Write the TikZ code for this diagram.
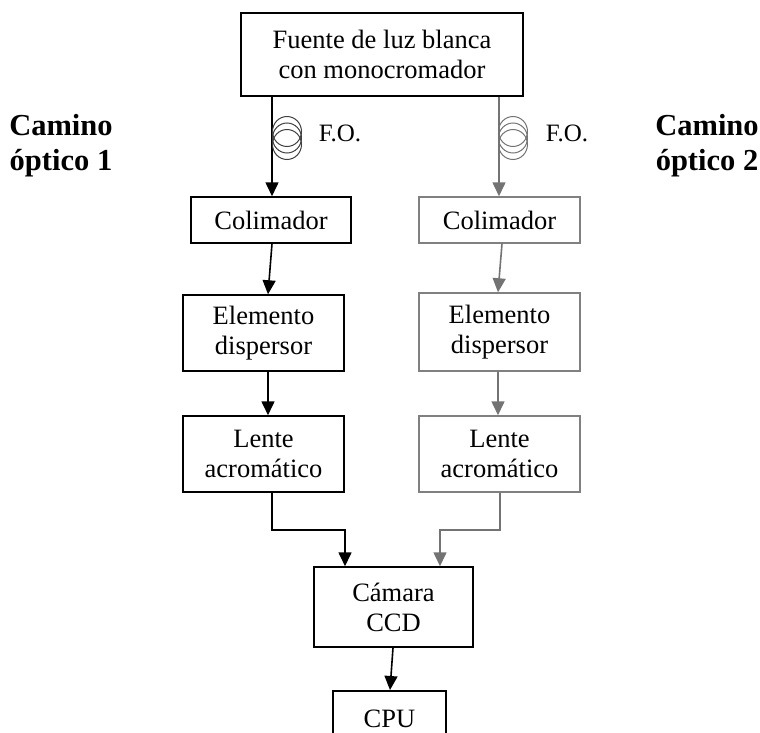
\documentclass[tikz,border=0pt]{standalone}
\usepackage{fontspec}
\setmainfont{Liberation Serif}
\usetikzlibrary{arrows.meta,positioning}
\tikzset{
  box/.style={rectangle, draw=black, line width=1.5pt, fill=white, align=center,
              inner sep=0pt, font=\fontsize{26.5}{30}\selectfont},
  gbox/.style={box, draw=black!50},
  ar/.style={-{Triangle[length=14pt,width=13pt]}, line width=1.6pt},
  gar/.style={ar, color=black!55},
  coil/.style={line width=1pt, draw=black!75}
}

\begin{document}
\begin{tikzpicture}[
  x=1pt, y=-1pt,
  path/.style={font=\fontsize{30.5}{35}\selectfont\bfseries, align=center},
  fo/.style={font=\fontsize{25}{30}\selectfont}
]
\useasboundingbox (0,0) rectangle (760,733);
\clip (0,0) rectangle (760,733);
% source
\node[box, minimum width=282pt, minimum height=83pt] (src) at (382,54.5) {Fuente de luz blanca\\con monocromador};
% optical path 1
\node[box, minimum width=160pt, minimum height=46pt] (col1) at (271,220) {Colimador};
\node[box, minimum width=161pt, minimum height=76pt] (dis1) at (263.5,333) {Elemento\\dispersor};
\node[box, minimum width=161pt, minimum height=76pt] (len1) at (263.5,454) {Lente\\acrom\'atico};
% optical path 2
\node[gbox, minimum width=161pt, minimum height=46pt] (col2) at (499.5,220) {Colimador};
\node[gbox, minimum width=161pt, minimum height=78pt] (dis2) at (499.5,332) {Elemento\\dispersor};
\node[gbox, minimum width=161pt, minimum height=76pt] (len2) at (499.5,454) {Lente\\acrom\'atico};
% detection
\node[box, minimum width=159pt, minimum height=80pt] (ccd) at (393.5,607) {C\'amara\\CCD};
\node[box, minimum width=113pt, minimum height=70pt, anchor=north] (cpu) at (389.5,690) {\raisebox{14pt}{CPU}};
% labels
\node[path] (p1) at (61,146) {Camino\\\'optico 1};
\node[path] (p2) at (707,146) {Camino\\\'optico 2};
\node[fo] (fo1) at (340,133) {F.O.};
\node[fo] (fo2) at (567,133) {F.O.};
% fibres
\draw[ar] (src.south -| 272,0) -- (col1.north -| 272,0);
\draw[gar] (src.south -| 499,0) -- (col2.north -| 499,0);
\foreach \dy in {-6.5,0,6.5} {
  \draw[coil] (287,138+\dy) ellipse (14.5pt and 15pt);
  \draw[coil, draw=black!55] (513,138+\dy) ellipse (14.5pt and 15pt);
}
% path 1
\draw[ar] (col1.south -| 272,0) -- (dis1.north -| 268,0);
\draw[ar] (dis1.south -| 268,0) -- (len1.north -| 268,0);
\draw[ar] (len1.south -| 272,0) |- (345,530) -- (ccd.north -| 345,0);
% path 2
\draw[gar] (col2.south -| 502,0) -- (dis2.north -| 498,0);
\draw[gar] (dis2.south -| 498,0) -- (len2.north -| 498,0);
\draw[gar] (len2.south -| 500,0) |- (440,530) -- (ccd.north -| 440,0);
% output
\draw[ar] (ccd.south -| 393,0) -- (cpu.north -| 390,0);
\end{tikzpicture}
\end{document}
